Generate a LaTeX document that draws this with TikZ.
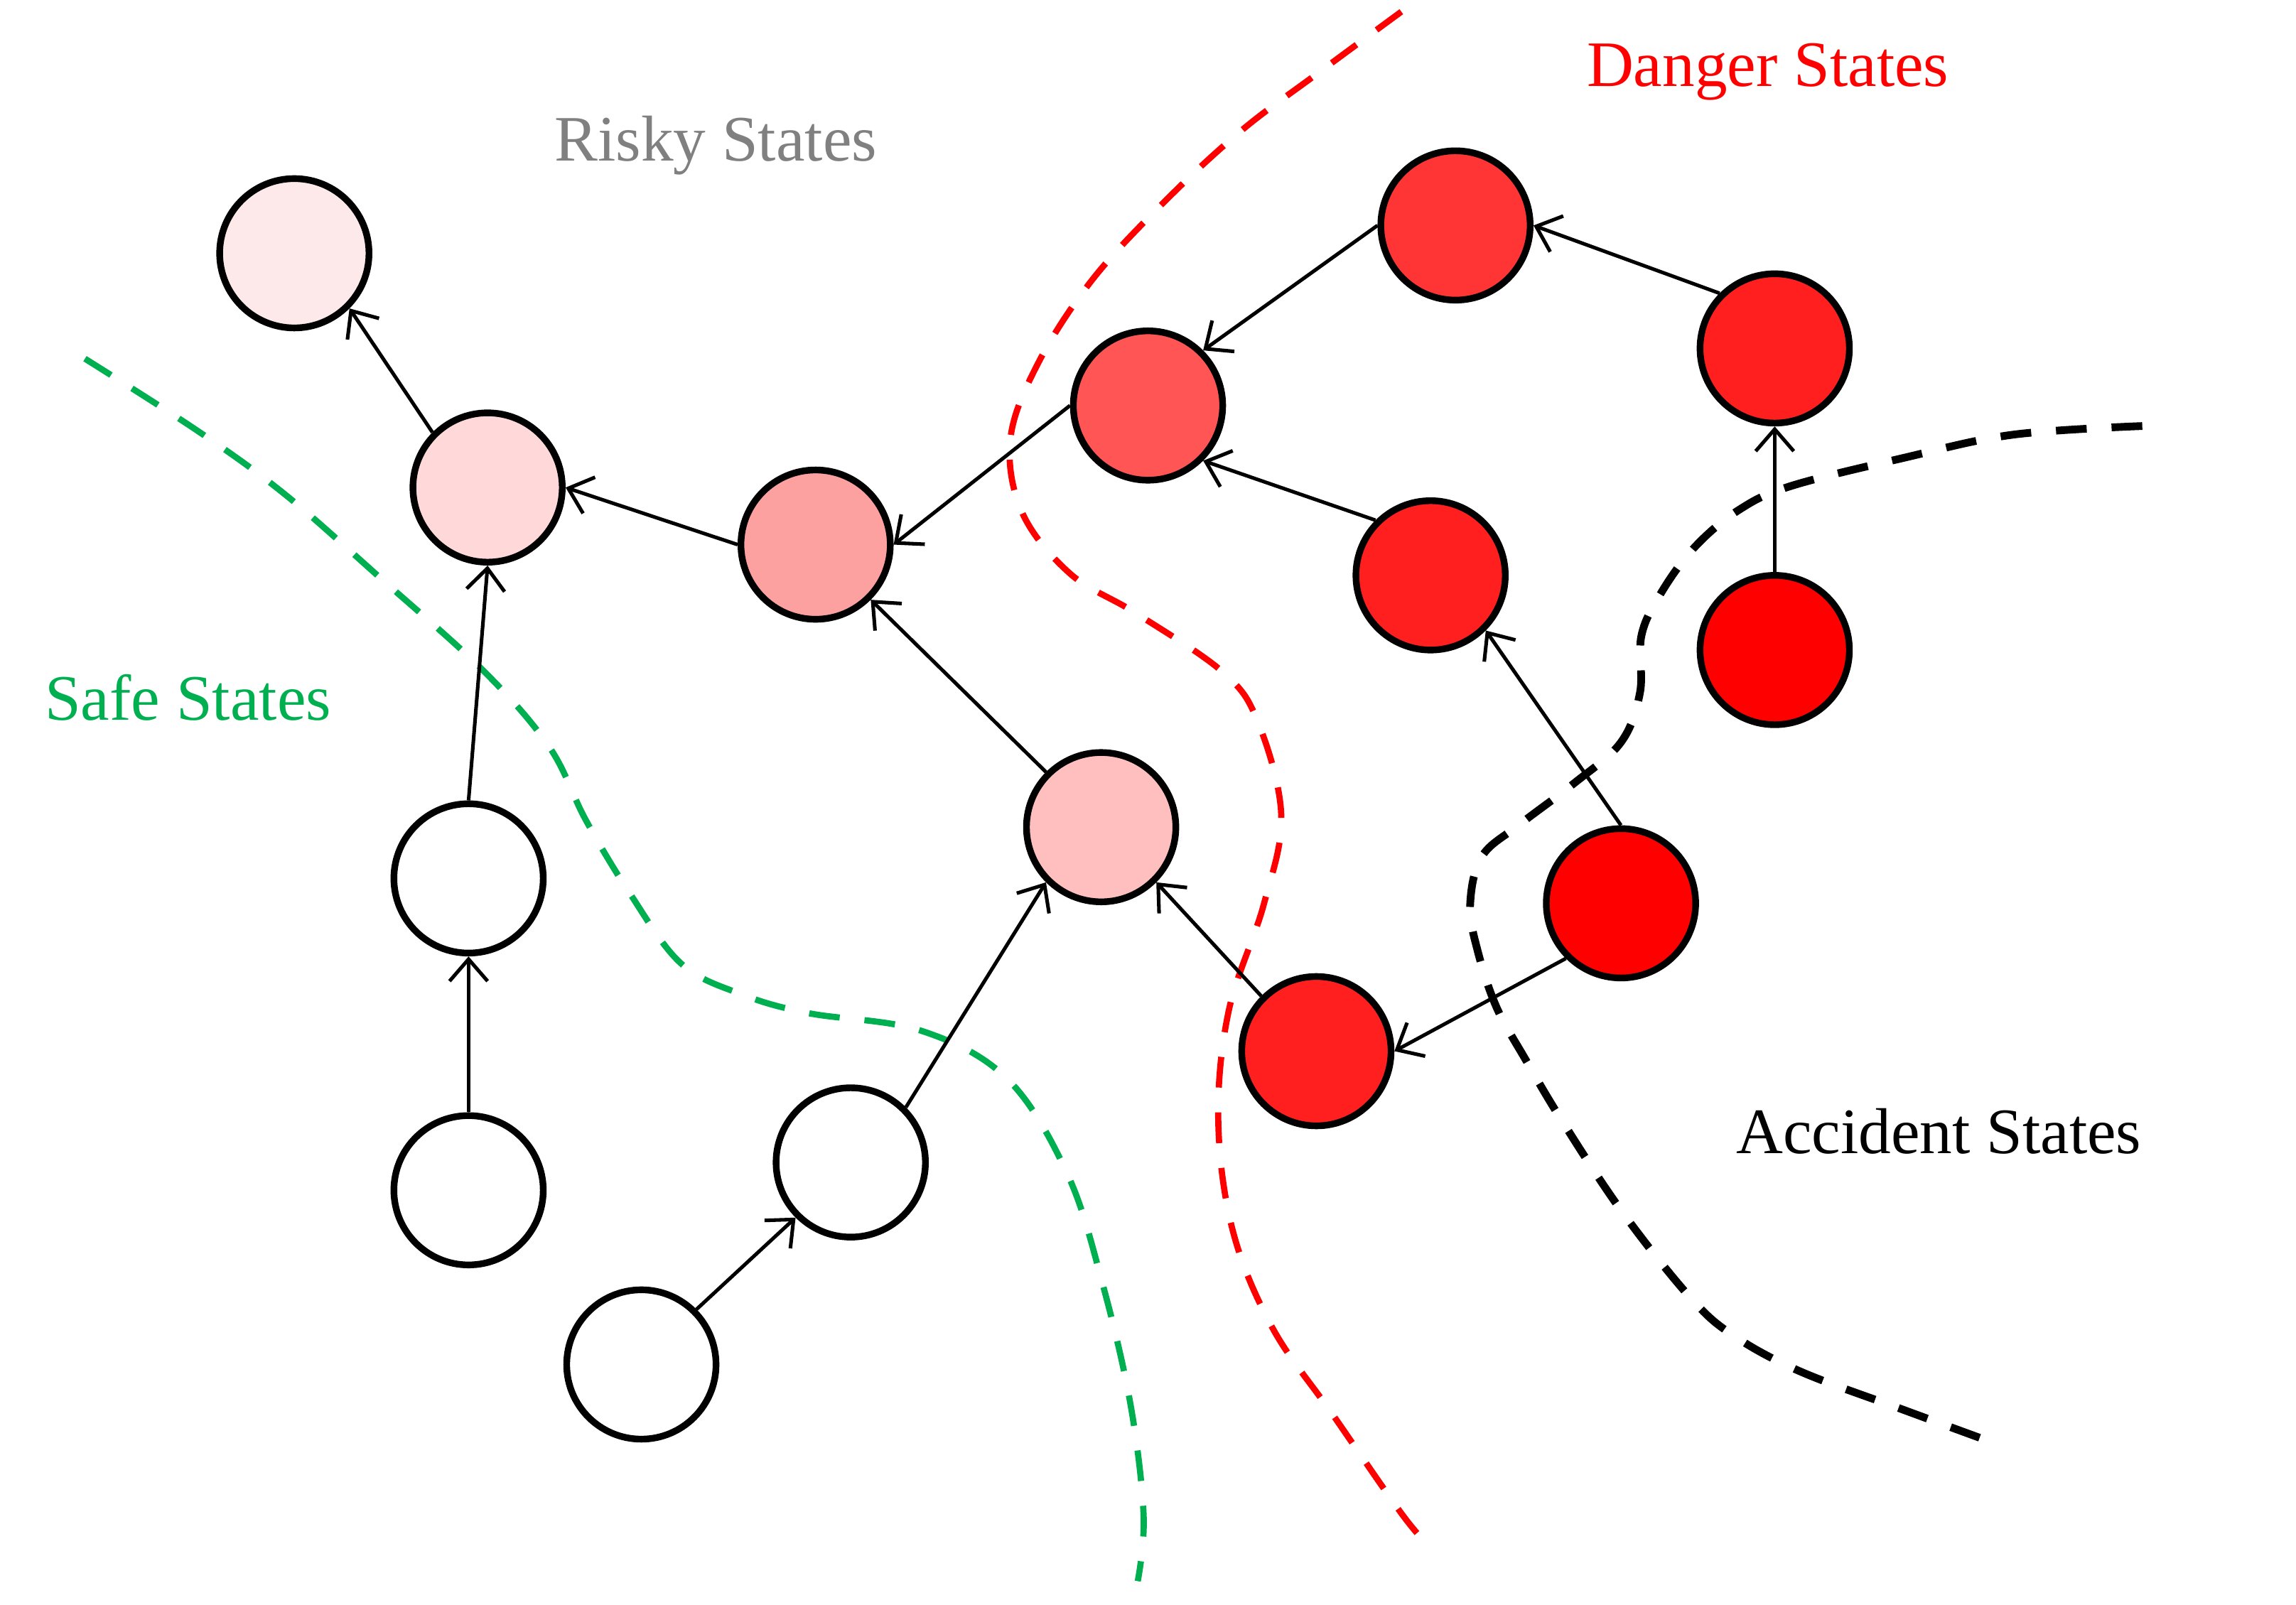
\documentclass[tikz,border=0pt]{standalone}
\usepackage{fontspec}
\setmainfont{Liberation Serif}
\usepackage{xcolor}
\usepackage{tikz}
\usetikzlibrary{arrows.meta, positioning}

\definecolor{safegreen}{HTML}{00B050}
\definecolor{riskgray}{HTML}{808080}
\definecolor{riskA}{HTML}{FDE9E9}
\definecolor{riskB}{HTML}{FFD9D9}
\definecolor{riskC}{HTML}{FCA0A0}
\definecolor{riskD}{HTML}{FFBFBF}
\definecolor{dangerA}{HTML}{FF5555}
\definecolor{dangerB}{HTML}{FF3535}
\definecolor{dangerC}{HTML}{FF1F1F}
\definecolor{accred}{HTML}{FF0000}

\begin{document}
\begin{tikzpicture}[
  x=0.1mm, y=-0.1mm,
  state/.style={circle, draw, line width=1.3pt, minimum size=1.02cm, inner sep=0pt},
  arrow/.style={-{Straight Barb[length=1.5mm,width=2.6mm]}, line width=0.7pt},
  border/.style={line width=1.2pt, dash pattern=on 2.1mm off 1.7mm},
  tag/.style={font=\fontsize{12.6}{15}\selectfont, anchor=base west, inner sep=0pt}
]
\useasboundingbox (0,0) rectangle (1568,1096);

% Nodes
\node[state, fill=riskA] (risky1) at (201,173) {};
\node[state, fill=riskB] (risky2) at (333,333) {};
\node[state, fill=riskC] (risky3) at (557,372) {};
\node[state, fill=riskD] (risky4) at (752,565) {};
\node[state, fill=dangerA] (danger1) at (784,277) {};
\node[state, fill=dangerB] (danger2) at (994,154) {};
\node[state, fill=dangerC] (danger3) at (1212,238) {};
\node[state, fill=dangerC] (danger4) at (977,393) {};
\node[state, fill=dangerC] (danger5) at (899,718) {};
\node[state, fill=accred] (accident1) at (1212,444) {};
\node[state, fill=accred] (accident2) at (1107,617) {};
\node[state] (safe1) at (320,600) {};
\node[state] (safe2) at (320,813) {};
\node[state] (safe3) at (581,794) {};
\node[state] (safe4) at (438,932) {};

% Labels
\node[tag, text=riskgray] (risky) at (378,110) {Risky States};
\node[tag, text=red] (danger) at (1083,59) {Danger States};
\node[tag, text=safegreen] (safe) at (30,492) {Safe States};
\node[tag] (accident) at (1185,788) {Accident States};

% Borders
\draw[border, safegreen] plot[smooth, tension=0.6] coordinates {(58,245) (136,295) (195,338) (260,395) (330,458) (375,510) (400,560) (430,610) (465,658) (506,679) (552,692) (629,704) (688,737) (729,802) (753,877) (772,959) (781,1035) (777,1080)};
\draw[border, red] plot[smooth, tension=0.6] coordinates {(957,8) (900,50) (848,89) (796,137) (746,191) (709,248) (690,300) (698,350) (731,392) (776,419) (835,459) (859,493) (875,557) (863,618) (839,691) (832,766) (842,841) (869,907) (910,966) (958,1035) (978,1058)};
\draw[border, black, line width=1.5pt] plot[smooth, tension=0.6] coordinates {(1463,291) (1374,297) (1299,313) (1223,332) (1188,348) (1158,373) (1135,404) (1121,434) (1120,473) (1107,507) (1075,535) (1038,563) (1012,585) (1004,618) (1009,649) (1022,688) (1042,724) (1067,766) (1108,828) (1155,887) (1185,913) (1230,937) (1300,963) (1360,985)};

% Pointers
\draw[arrow] (risky2.north west) -- (risky1.south east);
\draw[arrow] (risky3.west) -- (risky2.east);
\draw[arrow] (danger1.west) -- (risky3.east);
\draw[arrow] (danger2.west) -- (danger1.north east);
\draw[arrow] (danger3.north west) -- (danger2.east);
\draw[arrow] (danger4.north west) -- (danger1.south east);
\draw[arrow] (accident1.north) -- (danger3.south);
\draw[arrow] (accident2.north) -- (danger4.south east);
\draw[arrow] (accident2.south west) -- (danger5.east);
\draw[arrow] (danger5.north west) -- (risky4.south east);
\draw[arrow] (risky4.north west) -- (risky3.south east);
\draw[arrow] (safe1.north) -- (risky2.south);
\draw[arrow] (safe2.north) -- (safe1.south);
\draw[arrow] (safe3.north east) -- (risky4.south west);
\draw[arrow] (safe4.north east) -- (safe3.south west);
\end{tikzpicture}
\end{document}
